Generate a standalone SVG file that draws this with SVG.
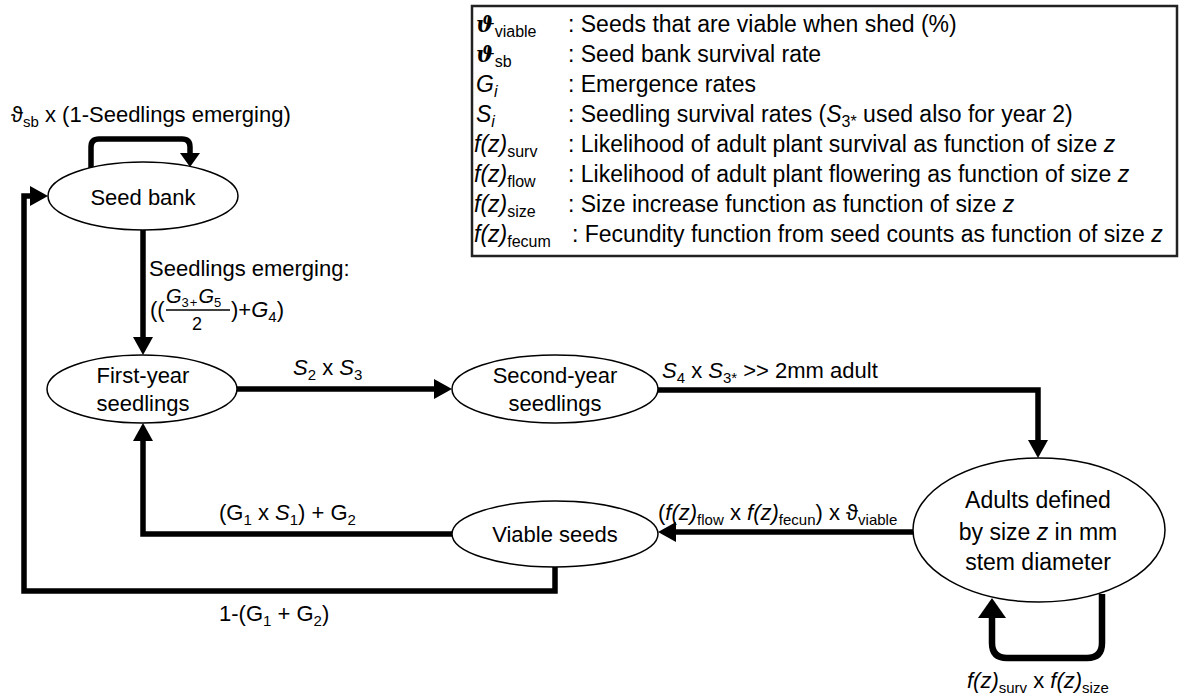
<svg xmlns="http://www.w3.org/2000/svg" width="1179" height="697" viewBox="0 0 1179 697">
<style>
text { font-family: "Liberation Sans", "DejaVu Sans", Arial, sans-serif; fill: #000; }
.t { font-size: 22px; }
.lg { font-size: 23px; }
.it { font-style: italic; }
.sub { font-size: 15px; }
.lsub { font-size: 16px; }
.th { font-family: "DejaVu Serif", "Liberation Serif", serif; font-style: italic; font-weight: bold; font-size: 22px; }
.node ellipse { fill: #fff; stroke: #000; stroke-width: 1.5; }
.conn path { fill: none; stroke: #000; stroke-width: 5.5; stroke-linejoin: miter; }
</style>
<defs>
<marker id="ah" markerUnits="userSpaceOnUse" markerWidth="18" markerHeight="20" refX="0" refY="10" orient="auto">
<path d="M0,0 L18,10 L0,20 Z" fill="#000"/>
</marker>
<marker id="ahs" markerUnits="userSpaceOnUse" markerWidth="14" markerHeight="20" refX="0" refY="10" orient="auto">
<path d="M0,0 L14,10 L0,20 Z" fill="#000"/>
</marker>
<marker id="ahb" markerUnits="userSpaceOnUse" markerWidth="20" markerHeight="28" refX="0" refY="14" orient="auto">
<path d="M0,0 L20,14 L0,28 Z" fill="#000"/>
</marker>
</defs>
<rect width="1179" height="697" fill="#fff"/>

<g id="legend">
<rect x="472" y="6" width="705" height="250" fill="#fff" stroke="#222" stroke-width="2.5"/>
<text x="476" y="32" class="lg"><tspan class="th">ϑ</tspan><tspan class="lsub" dy="5">viable</tspan></text>
<text x="568" y="32" class="lg">: Seeds that are viable when shed (%)</text>
<text x="476" y="62" class="lg"><tspan class="th">ϑ</tspan><tspan class="lsub" dy="5">sb</tspan></text>
<text x="568" y="62" class="lg">: Seed bank survival rate</text>
<text x="476" y="92" class="lg"><tspan class="it">G</tspan><tspan class="lsub it" dy="5">i</tspan></text>
<text x="568" y="92" class="lg">: Emergence rates</text>
<text x="476" y="122" class="lg"><tspan class="it">S</tspan><tspan class="lsub it" dy="5">i</tspan></text>
<text x="568" y="122" class="lg">: Seedling survival rates (<tspan class="it">S</tspan><tspan class="lsub" dy="5">3*</tspan><tspan dy="-5"> used also for year 2)</tspan></text>
<text x="474" y="152" class="lg"><tspan class="it">f(z)</tspan><tspan class="lsub" dy="5">surv</tspan></text>
<text x="568" y="152" class="lg">: Likelihood of adult plant survival as function of size <tspan class="it">z</tspan></text>
<text x="474" y="182" class="lg"><tspan class="it">f(z)</tspan><tspan class="lsub" dy="5">flow</tspan></text>
<text x="568" y="182" class="lg">: Likelihood of adult plant flowering as function of size <tspan class="it">z</tspan></text>
<text x="474" y="212" class="lg"><tspan class="it">f(z)</tspan><tspan class="lsub" dy="5">size</tspan></text>
<text x="568" y="212" class="lg">: Size increase function as function of size <tspan class="it">z</tspan></text>
<text x="474" y="242" class="lg"><tspan class="it">f(z)</tspan><tspan class="lsub" dy="5">fecum</tspan></text>
<text x="572" y="242" class="lg">: Fecundity function from seed counts as function of size <tspan class="it">z</tspan></text>
</g>

<g id="connectors" class="conn">
<path d="M91,168 V147 Q91,139 99,139 H182 Q190,139 190,147 V153" marker-end="url(#ahs)"/>
<path d="M143,230 V337" marker-end="url(#ah)"/>
<path d="M236,389 H434" marker-end="url(#ah)"/>
<path d="M658,390 H1038 V440" marker-end="url(#ah)"/>
<path d="M1102,594 V643 Q1102,658 1087,658 H1007 Q992,658 992,643 V618" marker-end="url(#ahb)" style="stroke-width:6.5"/>
<path d="M913,532 H676" marker-end="url(#ah)"/>
<path d="M452,534 H143 V441" marker-end="url(#ah)"/>
<path d="M555,567 V591 H24 V196 H30" marker-end="url(#ah)"/>
</g>

<g id="labels">
<text x="11" y="122" class="t">ϑ<tspan class="sub" dy="5">sb</tspan><tspan dy="-5"> x (1-Seedlings emerging)</tspan></text>
<text x="149" y="276" class="t">Seedlings emerging:</text>
<text x="150" y="317" class="t">((</text>
<text x="166" y="303" style="font-size:20px"><tspan class="it">G</tspan><tspan style="font-size:13px" dy="4">3</tspan><tspan style="font-size:13px" dx="1">+</tspan><tspan class="it" dx="1" dy="-4">G</tspan><tspan style="font-size:13px" dy="4">5</tspan></text>
<line x1="166" y1="310" x2="230" y2="310" stroke="#000" stroke-width="1.3"/>
<text x="197" y="330" style="font-size:18px" text-anchor="middle">2</text>
<text x="231" y="317" class="t">)+<tspan class="it">G</tspan><tspan class="sub" dy="5">4</tspan><tspan dy="-5">)</tspan></text>
<text x="293" y="375" class="t"><tspan class="it">S</tspan><tspan class="sub" dy="5">2</tspan><tspan dy="-5"> x </tspan><tspan class="it">S</tspan><tspan class="sub" dy="5">3</tspan></text>
<text x="662" y="378" class="t"><tspan class="it">S</tspan><tspan class="sub" dy="5">4</tspan><tspan dy="-5"> x </tspan><tspan class="it">S</tspan><tspan class="sub" dy="5">3*</tspan><tspan dy="-5"> &gt;&gt; 2mm adult</tspan></text>
<text x="658" y="520" class="t">(<tspan class="it">f(z)</tspan><tspan class="sub" dy="5">flow</tspan><tspan dy="-5"> x </tspan><tspan class="it">f(z)</tspan><tspan class="sub" dy="5">fecun</tspan><tspan dy="-5">) x ϑ</tspan><tspan class="sub" dy="5">viable</tspan></text>
<text x="219" y="520" class="t">(G<tspan class="sub" dy="5">1</tspan><tspan dy="-5"> x </tspan><tspan class="it">S</tspan><tspan class="sub" dy="5">1</tspan><tspan dy="-5">) + G</tspan><tspan class="sub" dy="5">2</tspan></text>
<text x="219" y="621" class="t">1-(G<tspan class="sub" dy="5">1</tspan><tspan dy="-5"> + G</tspan><tspan class="sub" dy="5">2</tspan><tspan dy="-5">)</tspan></text>
<text x="967" y="688" class="t"><tspan class="it">f(z)</tspan><tspan class="sub" dy="5">surv</tspan><tspan dy="-5"> x </tspan><tspan class="it">f(z)</tspan><tspan class="sub" dy="5">size</tspan></text>
</g>

<g id="seed-bank" class="node">
<ellipse cx="143" cy="196" rx="95" ry="34"/>
<text x="143" y="205" class="t" text-anchor="middle">Seed bank</text>
</g>
<g id="first-year" class="node">
<ellipse cx="142" cy="389" rx="95" ry="34"/>
<text x="143" y="383" class="t" text-anchor="middle">First-year</text>
<text x="143" y="411" class="t" text-anchor="middle">seedlings</text>
</g>
<g id="second-year" class="node">
<ellipse cx="555" cy="389" rx="103" ry="34"/>
<text x="555" y="383" class="t" text-anchor="middle">Second-year</text>
<text x="555" y="411" class="t" text-anchor="middle">seedlings</text>
</g>
<g id="viable-seeds" class="node">
<ellipse cx="555" cy="534" rx="103" ry="33"/>
<text x="555" y="542" class="t" text-anchor="middle">Viable seeds</text>
</g>
<g id="adults" class="node">
<ellipse cx="1039" cy="530" rx="126" ry="72"/>
<text x="1038" y="508" style="font-size:23px" text-anchor="middle">Adults defined</text>
<text x="1038" y="540" style="font-size:23px" text-anchor="middle">by size <tspan class="it">z</tspan> in mm</text>
<text x="1038" y="570" style="font-size:23px" text-anchor="middle">stem diameter</text>
</g>
</svg>
